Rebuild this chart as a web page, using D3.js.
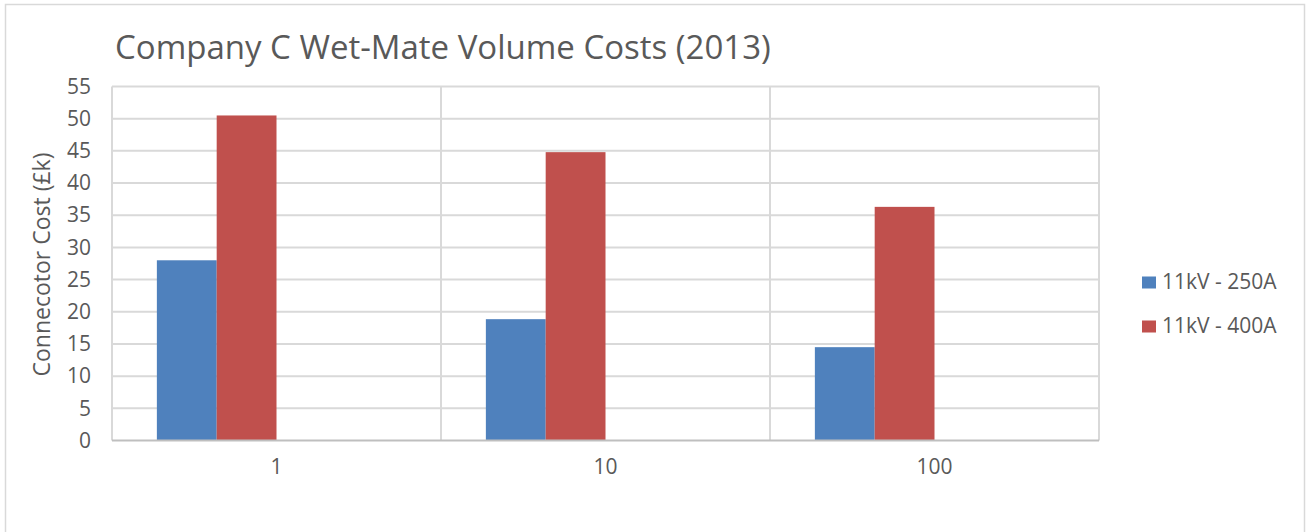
<!DOCTYPE html>
<html>
<head>
<meta charset="utf-8">
<script src="https://cdn.jsdelivr.net/npm/d3@7"></script>
<style>
  body { margin: 0; background: #fff; }
  svg text { font-family: 'Open Sans', 'Liberation Sans', sans-serif; fill: #595959; }
</style>
</head>
<body>
<div id="chart"></div>
<script>
const CATEGORIES = ['1', '10', '100'];
const SERIES = ['11kV - 250A', '11kV - 400A'];
const VALUES_250A = [28.0, 18.85, 14.5];
const VALUES_400A = [50.5, 44.8, 36.3];
const Y_TICKS = [0, 5, 10, 15, 20, 25, 30, 35, 40, 45, 50, 55];
const COLORS = ['#4f81bd', '#c0504d'];

const WIDTH = 1307;
const HEIGHT = 532;
const PLOT = { left: 112, right: 1099, top: 86.5, bottom: 440.5 };
// the original sheet reserves four series slots per category, only two are filled
const SERIES_SLOTS = 4;
const GRID = '#d9d9d9';

const svg = d3.select('#chart')
	.append('svg')
	.attr('width', WIDTH)
	.attr('height', HEIGHT);

// outer chart border
svg.append('rect')
	.attr('x', 5.5)
	.attr('y', 4.5)
	.attr('width', 1299)
	.attr('height', 540)
	.attr('fill', 'none')
	.attr('stroke', GRID)
	.attr('stroke-width', 1.5);

// scales
const xScale = d3.scaleBand()
	.domain(CATEGORIES)
	.range([PLOT.left, PLOT.right])
	.padding(0);
const slotScale = d3.scaleBand()
	.domain(d3.range(SERIES_SLOTS))
	.range([0, xScale.bandwidth()])
	.paddingInner(0)
	.paddingOuter(0.75);
const yScale = d3.scaleLinear()
	.domain([0, 55])
	.range([PLOT.bottom, PLOT.top]);

// horizontal gridlines
svg.append('g')
	.selectAll('line')
	.data(Y_TICKS.filter(d => d > 0))
	.enter()
	.append('line')
	.attr('x1', PLOT.left)
	.attr('x2', PLOT.right)
	.attr('y1', d => yScale(d))
	.attr('y2', d => yScale(d))
	.attr('stroke', GRID)
	.attr('stroke-width', 2);

// vertical gridlines at category boundaries
svg.append('g')
	.selectAll('line')
	.data(CATEGORIES)
	.enter()
	.append('line')
	.attr('x1', d => xScale(d) + xScale.bandwidth())
	.attr('x2', d => xScale(d) + xScale.bandwidth())
	.attr('y1', PLOT.top)
	.attr('y2', PLOT.bottom)
	.attr('stroke', GRID)
	.attr('stroke-width', 2);

// left axis line
svg.append('line')
	.attr('x1', PLOT.left)
	.attr('x2', PLOT.left)
	.attr('y1', PLOT.top)
	.attr('y2', PLOT.bottom)
	.attr('stroke', GRID)
	.attr('stroke-width', 2);

// bars
const seriesData = [VALUES_250A, VALUES_400A];
seriesData.forEach((values, s) => {
	svg.append('g')
		.selectAll('rect')
		.data(values)
		.enter()
		.append('rect')
		.attr('x', (d, i) => xScale(CATEGORIES[i]) + slotScale(s))
		.attr('width', slotScale.bandwidth())
		.attr('y', d => yScale(d))
		.attr('height', d => yScale(0) - yScale(d))
		.attr('fill', COLORS[s]);
});

// bottom axis line
svg.append('line')
	.attr('x1', PLOT.left)
	.attr('x2', PLOT.right)
	.attr('y1', PLOT.bottom)
	.attr('y2', PLOT.bottom)
	.attr('stroke', '#bfbfbf')
	.attr('stroke-width', 2);

// y axis
const yAxis = d3.axisLeft(yScale)
	.tickValues(Y_TICKS)
	.tickSize(0)
	.tickPadding(0);
const yAxisG = svg.append('g')
	.attr('transform', `translate(${PLOT.left - 21}, 0)`)
	.call(yAxis);
yAxisG.select('.domain').remove();
yAxisG.selectAll('text')
	.style('font-size', '21px')
	.attr('fill', '#595959');

// x axis
const xAxis = d3.axisBottom(xScale)
	.tickSize(0)
	.tickPadding(0);
const xAxisG = svg.append('g')
	.attr('transform', `translate(0, ${PLOT.bottom + 19})`)
	.call(xAxis);
xAxisG.select('.domain').remove();
xAxisG.selectAll('text')
	.style('font-size', '21px')
	.attr('fill', '#595959');

// title
svg.append('text')
	.attr('x', 115)
	.attr('y', 59)
	.style('font-size', '33px')
	.text('Company C Wet-Mate Volume Costs (2013)');

// y axis title
svg.append('text')
	.attr('transform', `translate(50, ${(PLOT.top + PLOT.bottom) / 2 + 1}) rotate(-90)`)
	.style('font-size', '23px')
	.style('text-anchor', 'middle')
	.text('Connecotor Cost (£k)');

// legend
const legend = svg.append('g')
	.selectAll('g')
	.data(SERIES)
	.enter()
	.append('g')
	.attr('transform', (d, i) => `translate(1142, ${289 + i * 44})`);
legend.append('rect')
	.attr('y', -12.5)
	.attr('width', 14)
	.attr('height', 12)
	.attr('fill', (d, i) => COLORS[i]);
legend.append('text')
	.attr('x', 20)
	.attr('y', 0)
	.style('font-size', '21px')
	.text(d => d);
</script>
</body>
</html>
